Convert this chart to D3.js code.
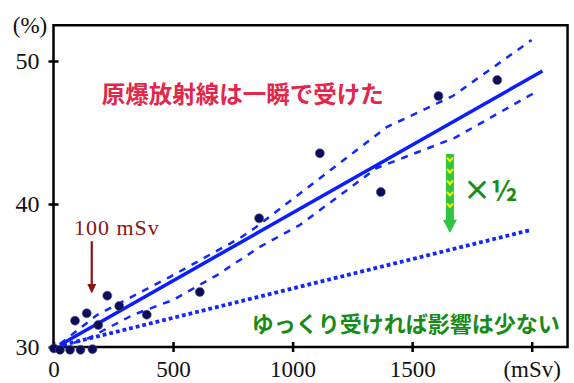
<!DOCTYPE html>
<html>
<head>
<meta charset="utf-8">
<script src="https://cdn.jsdelivr.net/npm/d3@7"></script>
<style>
  body { margin: 0; background: #fff; }
  svg { display: block; }
</style>
</head>
<body>
<div id="chart"></div>
<script>
var w = 574;
var h = 383;

// dose (mSv) and cancer risk (%) of the survivor groups
var doseX = [2, 27, 69, 113, 163, 90, 139, 187, 225, 275, 390, 612, 860, 1114, 1369, 1610, 1856];
var riskY = [29.9, 29.8, 29.8, 29.8, 29.85, 31.84, 32.36, 31.54, 33.59, 32.87, 32.26, 33.85, 39.0, 43.55, 40.84, 47.55, 48.67];

// fitted line and its band
var fitX = [27, 2045];
var fitY = [30.14, 49.3];
var upperX = [27, 182, 487, 780, 842, 1394, 1670, 2000];
var upperY = [30.21, 32.24, 34.9, 37.62, 38.32, 45.38, 47.55, 51.47];
var lowerX = [27, 132, 332, 500, 684, 863, 1030, 1352, 1678, 2017];
var lowerY = [30.07, 30.49, 32.24, 33.29, 35.03, 37.0, 38.53, 42.52, 44.62, 47.83];
// slow exposure: about half the effect
var slowX = [40, 2000];
var slowY = [30.15, 38.2];

var xTicks = [0, 500, 1000, 1500, 2000];
var xTickLabels = ["0", "500", "1000", "1500", "(mSv)"];
var yTicks = [30, 40, 50];
var xMax = 2150;
var yMax = 52.5;

var x = d3.scaleLinear().domain([0, 2000]).range([53.5, 531.7]);
var y = d3.scaleLinear().domain([30, 50]).range([347, 61]);

var svg = d3.select("#chart")
    .append("svg")
    .attr("width", w)
    .attr("height", h);

var serif = "'Liberation Serif', 'DejaVu Serif', serif";
var jp = "'Noto Sans CJK JP', sans-serif";

// frame
svg.append("rect")
    .attr("x", x(0))
    .attr("y", y(yMax))
    .attr("width", x(xMax) - x(0))
    .attr("height", y(30) - y(yMax))
    .attr("fill", "none")
    .attr("stroke", "#000")
    .attr("stroke-width", 2.5);

// axes
var xAxis = svg.append("g")
    .attr("transform", "translate(0," + y(30) + ")")
    .call(d3.axisBottom(x).tickValues(xTicks).tickSize(5).tickPadding(9)
        .tickFormat(function (d, i) { return xTickLabels[i]; }));
xAxis.select(".domain").remove();
xAxis.selectAll(".tick line").attr("y1", -5).attr("stroke-width", 2.5).attr("stroke", "#000");
xAxis.selectAll(".tick text")
    .attr("font-family", serif)
    .attr("font-size", "23px")
    .attr("fill", "#111");

var yAxis = svg.append("g")
    .attr("transform", "translate(" + x(0) + ",0)")
    .call(d3.axisLeft(y).tickValues(yTicks).tickSize(5).tickPadding(9));
yAxis.select(".domain").remove();
yAxis.selectAll(".tick line").attr("x1", 5).attr("stroke-width", 2.5).attr("stroke", "#000");
yAxis.selectAll(".tick text")
    .attr("font-family", serif)
    .attr("font-size", "24px")
    .attr("fill", "#111");

svg.append("text")
    .attr("x", 30)
    .attr("y", 33)
    .attr("text-anchor", "middle")
    .attr("font-family", serif)
    .attr("font-size", "23px")
    .attr("fill", "#111")
    .text("(%)");

// lines
var line = d3.line()
    .x(function (d) { return x(d[0]); })
    .y(function (d) { return y(d[1]); });

function pairs(xs, ys) {
    return xs.map(function (v, i) { return [v, ys[i]]; });
}

svg.append("path")
    .datum(pairs(slowX, slowY))
    .attr("d", line)
    .attr("fill", "none")
    .attr("stroke", "#1028ff")
    .attr("stroke-width", 3.8)
    .attr("stroke-dasharray", "3.8,3");

svg.append("path")
    .datum(pairs(upperX, upperY))
    .attr("d", line)
    .attr("fill", "none")
    .attr("stroke", "#1028ff")
    .attr("stroke-width", 2.5)
    .attr("stroke-dasharray", "7,7");

svg.append("path")
    .datum(pairs(lowerX, lowerY))
    .attr("d", line)
    .attr("fill", "none")
    .attr("stroke", "#1028ff")
    .attr("stroke-width", 2.5)
    .attr("stroke-dasharray", "7,7");

svg.append("path")
    .datum(pairs(fitX, fitY))
    .attr("d", line)
    .attr("fill", "none")
    .attr("stroke", "#0a1eff")
    .attr("stroke-width", 3.5);

// points
svg.selectAll("circle")
    .data(pairs(doseX, riskY))
    .enter()
    .append("circle")
    .attr("cx", function (d) { return x(d[0]); })
    .attr("cy", function (d) { return y(d[1]); })
    .attr("r", 4.5)
    .attr("fill", "#0c0c5c")
    .attr("stroke", "#55557a")
    .attr("stroke-width", 0.6);

// annotations
svg.append("text")
    .attr("x", x(792))
    .attr("y", y(47.05))
    .attr("text-anchor", "middle")
    .attr("font-family", jp)
    .attr("font-weight", "bold")
    .attr("font-size", "23.5px")
    .attr("fill", "#e3264a")
    .text("原爆放射線は一瞬で受けた");

svg.append("text")
    .attr("x", x(829))
    .attr("y", y(29.75) - 19)
    .attr("font-family", jp)
    .attr("font-weight", "bold")
    .attr("font-size", "22px")
    .attr("fill", "#178a17")
    .text("ゆっくり受ければ影響は少ない");

svg.append("text")
    .attr("x", x(265))
    .attr("y", y(37.83))
    .attr("text-anchor", "middle")
    .attr("font-family", serif)
    .attr("font-size", "22px")
    .attr("letter-spacing", "1px")
    .attr("fill", "#8a1414")
    .text("100 mSv");

var arrowX = x(160);
svg.append("line")
    .attr("x1", arrowX).attr("x2", arrowX)
    .attr("y1", y(37.4)).attr("y2", y(34.3))
    .attr("stroke", "#8a1414")
    .attr("stroke-width", 2.2);
svg.append("path")
    .attr("d", "M" + (arrowX - 4.5) + "," + y(34.4) + "L" + (arrowX + 4.5) + "," + y(34.4) + "L" + arrowX + "," + y(33.75) + "Z")
    .attr("fill", "#8a1414");

// green arrow (x 1/2)
var gx = x(1658);
var gTop = y(43.5), gNeck = y(38.9), gTip = y(37.97);
svg.append("path")
    .attr("d", "M" + (gx - 4) + "," + gTop + "L" + (gx + 4) + "," + gTop +
        "L" + (gx + 4) + "," + gNeck + "L" + (gx + 7) + "," + gNeck +
        "L" + gx + "," + gTip + "L" + (gx - 7) + "," + gNeck +
        "L" + (gx - 4) + "," + gNeck + "Z")
    .attr("fill", "#2fc443");
[43.0, 42.2, 41.4, 40.6, 39.8].forEach(function (v) {
    var cy = y(v);
    svg.append("path")
        .attr("d", "M" + (gx - 3) + "," + (cy - 3.5) + "L" + gx + "," + cy + "L" + (gx + 3) + "," + (cy - 3.5))
        .attr("fill", "none")
        .attr("stroke", "#f2f000")
        .attr("stroke-width", 2.2);
});

svg.append("text")
    .attr("x", gx + 13)
    .attr("y", y(40.2))
    .attr("font-family", jp)
    .attr("font-weight", "bold")
    .attr("font-size", "28px")
    .attr("fill", "#1a8c1a")
    .text("×½");
</script>
</body>
</html>
